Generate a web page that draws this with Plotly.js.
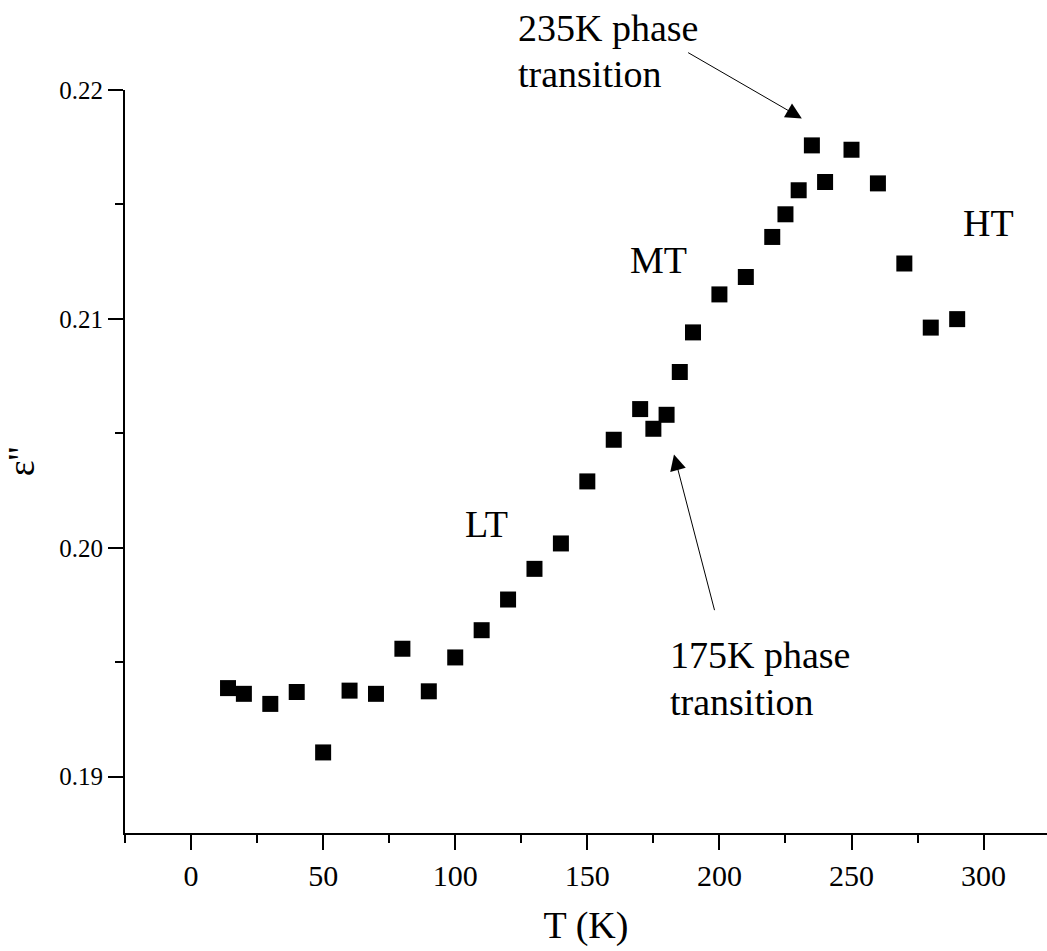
<!DOCTYPE html>
<html>
<head>
<meta charset="utf-8">
<script src="https://cdn.plot.ly/plotly-3.0.1.min.js"></script>
<style>
  html, body { margin: 0; padding: 0; background: #fff; }
  #chart { width: 1047px; height: 951px; }
</style>
</head>
<body>
<div id="chart"></div>
<script>
// Temperature (K) and dielectric loss ε'' measurements
const temperatureK = [14, 20, 30, 40, 50, 60, 70, 80, 90, 100, 110, 120, 130, 140, 150, 160,
                      170, 175, 180, 185, 190, 200, 210, 220, 225, 230, 235, 240, 250, 260,
                      270, 280, 290];
const epsLoss = [0.19387, 0.19362, 0.19318, 0.19370, 0.19106, 0.19376, 0.19362, 0.19559,
                 0.19373, 0.19521, 0.19640, 0.19774, 0.19908, 0.20019, 0.20290, 0.20472,
                 0.20606, 0.20520, 0.20581, 0.20768, 0.20941, 0.21107, 0.21183, 0.21358,
                 0.21457, 0.21562, 0.21758, 0.21598, 0.21739, 0.21592, 0.21242, 0.20962,
                 0.20999];

// Phase region labels
const regionLabels = ["LT", "MT", "HT"];
const regionX = [112.0, 176.9, 301.8];
const regionY = [0.20104, 0.21256, 0.21418];

// Phase-transition callouts: two text lines (placed on the paper so they may sit
// above the plotting area) plus an arrow toward the transition point
const callouts = [
  { lines: ["235K phase", "transition"], px: 0.4240, py: [1.0828, 1.0222],
    tail: [187.6, 0.22167], head: [231.2, 0.21876] },
  { lines: ["175K phase", "transition"], px: 0.5893, py: [0.2392, 0.1765],
    tail: [198.3, 0.19721], head: [182.8, 0.20408] }
];

const serif = "Liberation Serif, Times New Roman, serif";

const trace = {
  x: temperatureK,
  y: epsLoss,
  type: "scatter",
  mode: "markers",
  marker: { symbol: "square", size: 16, color: "#000", line: { width: 0 } },
  cliponaxis: false,
  showlegend: false,
  hoverinfo: "x+y"
};

const annotations = [];
regionLabels.forEach((t, i) => {
  annotations.push({
    x: regionX[i], y: regionY[i], xref: "x", yref: "y",
    text: t, showarrow: false, xanchor: "center", yanchor: "middle",
    font: { family: serif, size: 38, color: "#000" }
  });
});
callouts.forEach(c => {
  c.lines.forEach((line, k) => {
    annotations.push({
      x: c.px, y: c.py[k], xref: "paper", yref: "paper",
      text: line, showarrow: false, xanchor: "left", yanchor: "middle",
      font: { family: serif, size: 38, color: "#000" }
    });
  });
  annotations.push({
    x: c.head[0], y: c.head[1], xref: "x", yref: "y",
    ax: c.tail[0], ay: c.tail[1], axref: "x", ayref: "y",
    text: "", showarrow: true, arrowhead: 2, arrowsize: 3.2, arrowwidth: 1,
    arrowcolor: "#000", standoff: 0, startstandoff: 0
  });
});

const layout = {
  width: 1047,
  height: 951,
  margin: { l: 125, r: 0, t: 90, b: 118, pad: 0 },
  paper_bgcolor: "#fff",
  plot_bgcolor: "#fff",
  font: { family: serif, color: "#000" },
  showlegend: false,
  xaxis: {
    range: [-25, 324],
    tickmode: "linear", tick0: 0, dtick: 50,
    ticks: "outside", ticklen: 15, tickwidth: 2, tickcolor: "#000",
    minor: { dtick: 25, tick0: 0, ticks: "outside", ticklen: 8, tickwidth: 2, tickcolor: "#000", showgrid: false },
    showline: true, linewidth: 2, linecolor: "#000", mirror: false,
    showgrid: false, zeroline: false,
    tickfont: { family: serif, size: 30, color: "#000" },
    title: { text: "T (K)", font: { family: serif, size: 38, color: "#000" }, standoff: 20 }
  },
  yaxis: {
    range: [0.18754, 0.22],
    tickmode: "linear", tick0: 0.19, dtick: 0.01,
    tickformat: ".2f",
    ticks: "outside", ticklen: 15, tickwidth: 2, tickcolor: "#000",
    minor: { dtick: 0.005, tick0: 0.19, ticks: "outside", ticklen: 8, tickwidth: 2, tickcolor: "#000", showgrid: false },
    showline: true, linewidth: 2, linecolor: "#000", mirror: false,
    showgrid: false, zeroline: false,
    tickfont: { family: serif, size: 25, color: "#000" },
    title: { text: "ε''", font: { family: serif, size: 38, color: "#000" }, standoff: 20 }
  },
  annotations: annotations
};

Plotly.newPlot("chart", [trace], layout, { displayModeBar: false, staticPlot: true });
</script>
</body>
</html>
